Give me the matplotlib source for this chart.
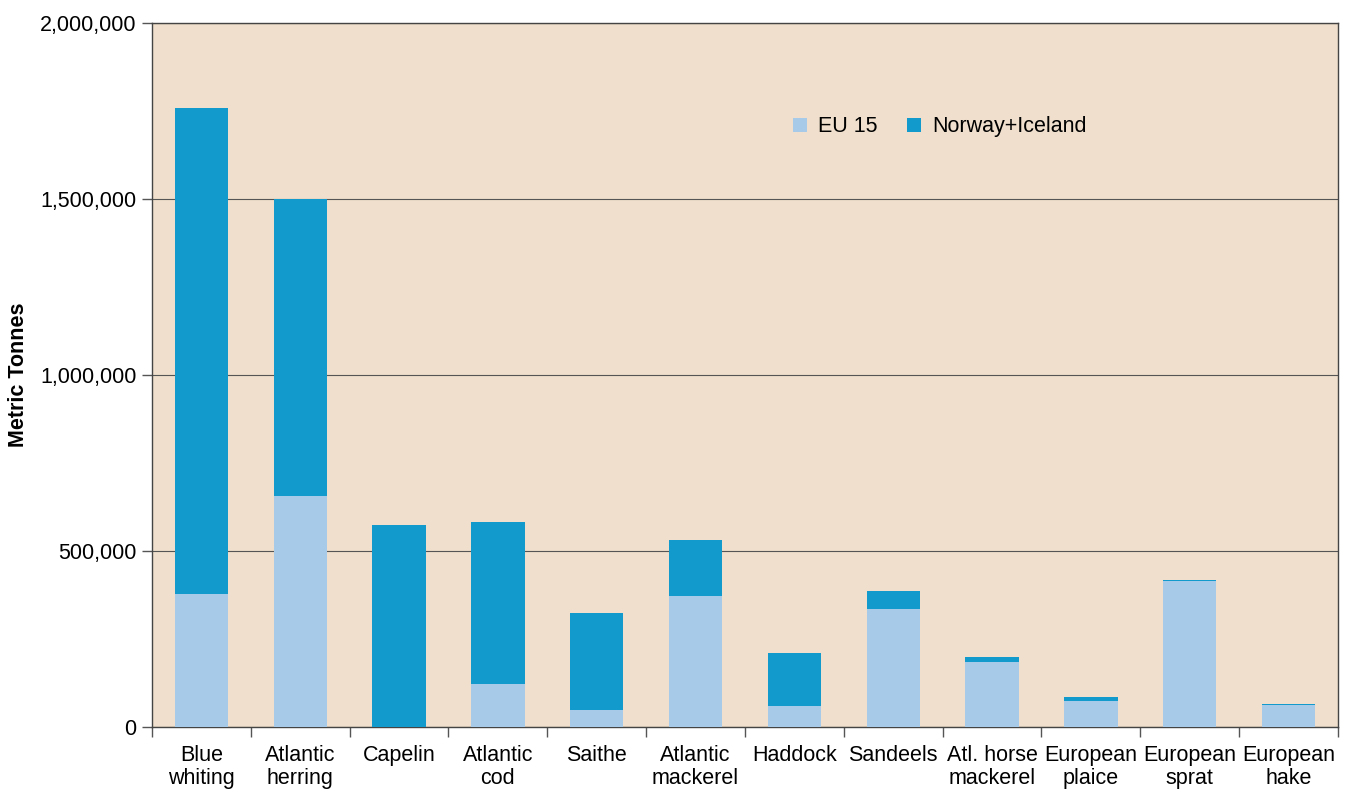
import numpy as np
import matplotlib.pyplot as plt
from matplotlib.ticker import FuncFormatter, MultipleLocator

plt.rcParams['font.family'] = ['Liberation Sans', 'DejaVu Sans']

species = ['Blue\nwhiting', 'Atlantic\nherring', 'Capelin', 'Atlantic\ncod', 'Saithe',
           'Atlantic\nmackerel', 'Haddock', 'Sandeels', 'Atl. horse\nmackerel',
           'European\nplaice', 'European\nsprat', 'European\nhake']
eu15 = [378000, 656000, 0, 122000, 48000, 372000, 60000, 335000, 185000, 74000, 415000, 62000]
norway_iceland = [1380000, 844000, 574000, 460000, 276000, 159000, 150000, 51000, 14000, 11000, 3000, 3000]

bg = '#efdfcc'
c_eu = '#a6cae8'
c_no = '#129acc'
fs = 15.5

fig = plt.figure(figsize=(13.47, 7.92), dpi=100)
ax = fig.add_axes([0.1128, 0.0821, 0.8805, 0.8889])
ax.set_facecolor(bg)

x = np.arange(len(species))
ax.bar(x, eu15, width=0.54, color=c_eu, label='EU 15', zorder=3)
ax.bar(x, norway_iceland, width=0.54, bottom=eu15, color=c_no, label='Norway+Iceland', zorder=3)

ax.set_xlim(-0.5, len(species) - 0.5)
ax.set_ylim(0, 2000000)
ax.yaxis.set_major_locator(MultipleLocator(500000))
ax.yaxis.set_major_formatter(FuncFormatter(lambda v, p: f'{int(v):,}'))
ax.grid(axis='y', color='#555555', linewidth=0.8, zorder=1)

# ticks between categories, labels centred
ax.set_xticks(np.arange(-0.5, len(species), 1.0))
ax.set_xticklabels([])
ax.set_xticks(x, minor=True)
ax.set_xticklabels(species, minor=True, fontsize=fs, linespacing=1.1)
ax.tick_params(axis='x', which='minor', length=0, pad=13)
ax.tick_params(axis='x', which='major', length=7, color='#555555', width=1)
ax.tick_params(axis='y', length=7, color='#555555', width=1, labelsize=fs, pad=4)

for s in ax.spines.values():
    s.set_color('#444444')
    s.set_linewidth(1)

ax.set_ylabel('Metric Tonnes', fontsize=fs, fontweight='bold')
ax.yaxis.set_label_coords(-0.104, 0.5)

ax.legend(loc='upper left', bbox_to_anchor=(0.524, 0.895), ncol=2, frameon=False,
          fontsize=fs, handlelength=0.65, handleheight=0.65, handletextpad=0.5,
          columnspacing=1.4)

fig.savefig('out.png', dpi=100)
